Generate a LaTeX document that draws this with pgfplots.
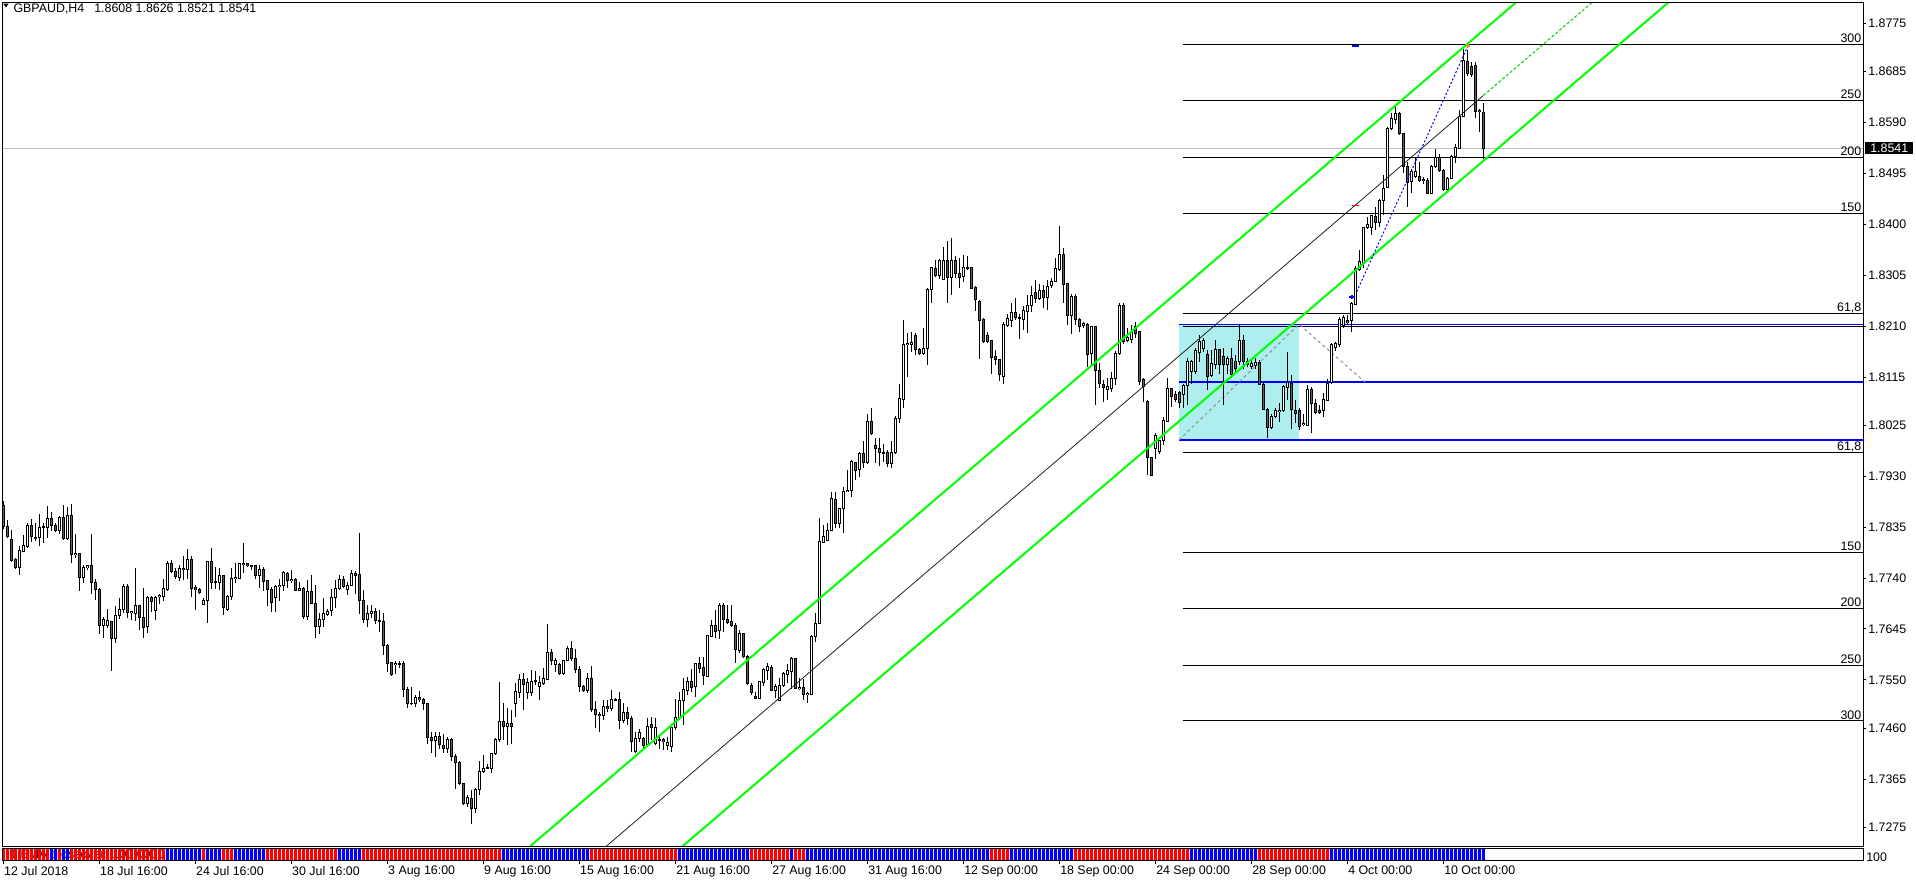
\documentclass[border=0pt]{standalone}
\usepackage{pgfplots}
\usepackage{pgfplotstable}
\pgfplotsset{compat=1.18}
\usepackage{fontspec}
\setmainfont{Liberation Sans}
\definecolor{mtgreen}{RGB}{0,255,0}
\definecolor{mtgreenb}{RGB}{0,210,0}
\definecolor{mtcyan}{RGB}{175,238,238}
\definecolor{mtbear}{RGB}{96,96,96}
\definecolor{mtgray}{RGB}{192,192,192}
\definecolor{mtdash}{RGB}{140,140,140}
\definecolor{mtorange}{RGB}{230,150,30}
\definecolor{mtmid}{RGB}{20,40,20}
\newcommand{\tkf}{\fontsize{9.3}{11}\selectfont}
\begin{document}
\pgfplotstableread{
i o h l c s
0 1.7876 1.7883 1.7831 1.7837 1
1 1.7837 1.7848 1.7815 1.7817 1
2 1.7812 1.7830 1.7771 1.7772 1
3 1.7774 1.7777 1.7758 1.7759 1
4 1.7760 1.7800 1.7746 1.7791 1
5 1.7789 1.7820 1.7788 1.7800 1
6 1.7799 1.7842 1.7797 1.7839 1
7 1.7839 1.7851 1.7808 1.7817 1
8 1.7816 1.7842 1.7810 1.7813 1
9 1.7815 1.7860 1.7799 1.7835 1
10 1.7835 1.7842 1.7805 1.7836 1
11 1.7835 1.7874 1.7815 1.7851 1
12 1.7851 1.7864 1.7827 1.7838 0
13 1.7839 1.7842 1.7827 1.7828 0
14 1.7828 1.7856 1.7823 1.7853 1
15 1.7853 1.7876 1.7811 1.7813 0
16 1.7813 1.7873 1.7811 1.7856 0
17 1.7856 1.7879 1.7769 1.7784 1
18 1.7784 1.7822 1.7777 1.7786 1
19 1.7786 1.7786 1.7716 1.7741 1
20 1.7741 1.7764 1.7731 1.7759 1
21 1.7759 1.7763 1.7755 1.7763 1
22 1.7763 1.7823 1.7711 1.7731 1
23 1.7731 1.7739 1.7699 1.7719 1
24 1.7719 1.7721 1.7636 1.7651 1
25 1.7651 1.7668 1.7628 1.7662 1
26 1.7651 1.7683 1.7646 1.7660 1
27 1.7660 1.7660 1.7567 1.7628 1
28 1.7628 1.7687 1.7619 1.7671 1
29 1.7671 1.7702 1.7663 1.7682 1
30 1.7682 1.7729 1.7674 1.7725 1
31 1.7725 1.7729 1.7665 1.7675 1
32 1.7675 1.7679 1.7661 1.7677 1
33 1.7674 1.7758 1.7659 1.7688 1
34 1.7688 1.7690 1.7643 1.7666 1
35 1.7666 1.7721 1.7629 1.7648 1
36 1.7649 1.7706 1.7638 1.7703 1
37 1.7703 1.7706 1.7677 1.7696 1
38 1.7679 1.7707 1.7662 1.7704 1
39 1.7705 1.7711 1.7691 1.7708 1
40 1.7705 1.7738 1.7697 1.7720 1
41 1.7718 1.7772 1.7715 1.7768 0
42 1.7768 1.7774 1.7749 1.7752 0
43 1.7753 1.7758 1.7738 1.7742 0
44 1.7741 1.7764 1.7735 1.7758 0
45 1.7758 1.7781 1.7736 1.7756 0
46 1.7756 1.7794 1.7739 1.7774 0
47 1.7774 1.7781 1.7704 1.7721 0
48 1.7722 1.7728 1.7680 1.7719 0
49 1.7719 1.7722 1.7710 1.7713 0
50 1.7690 1.7702 1.7689 1.7699 1
51 1.7699 1.7772 1.7657 1.7771 0
52 1.7771 1.7796 1.7720 1.7732 0
53 1.7732 1.7760 1.7719 1.7733 0
54 1.7732 1.7758 1.7718 1.7744 0
55 1.7744 1.7746 1.7671 1.7685 1
56 1.7682 1.7708 1.7678 1.7706 1
57 1.7705 1.7758 1.7699 1.7739 1
58 1.7739 1.7769 1.7730 1.7741 0
59 1.7739 1.7769 1.7738 1.7768 0
60 1.7768 1.7805 1.7749 1.7766 0
61 1.7767 1.7769 1.7760 1.7763 0
62 1.7763 1.7764 1.7755 1.7761 0
63 1.7763 1.7764 1.7738 1.7744 0
64 1.7744 1.7764 1.7721 1.7756 0
65 1.7756 1.7761 1.7715 1.7733 0
66 1.7735 1.7737 1.7687 1.7719 1
67 1.7719 1.7724 1.7677 1.7694 1
68 1.7704 1.7727 1.7677 1.7725 1
69 1.7725 1.7738 1.7698 1.7727 1
70 1.7726 1.7754 1.7716 1.7750 1
71 1.7749 1.7752 1.7721 1.7735 1
72 1.7735 1.7755 1.7730 1.7737 1
73 1.7737 1.7740 1.7717 1.7717 1
74 1.7717 1.7733 1.7717 1.7721 1
75 1.7721 1.7724 1.7663 1.7668 1
76 1.7668 1.7737 1.7662 1.7715 1
77 1.7715 1.7746 1.7692 1.7693 1
78 1.7693 1.7727 1.7629 1.7649 1
79 1.7649 1.7675 1.7636 1.7662 1
80 1.7662 1.7702 1.7648 1.7674 1
81 1.7672 1.7682 1.7670 1.7678 1
82 1.7679 1.7719 1.7670 1.7704 1
83 1.7704 1.7737 1.7684 1.7721 1
84 1.7721 1.7746 1.7718 1.7738 0
85 1.7738 1.7743 1.7722 1.7725 0
86 1.7718 1.7733 1.7708 1.7727 0
87 1.7727 1.7755 1.7725 1.7749 0
88 1.7749 1.7754 1.7710 1.7745 0
89 1.7746 1.7824 1.7673 1.7698 0
90 1.7699 1.7718 1.7657 1.7663 1
91 1.7663 1.7690 1.7649 1.7674 1
92 1.7674 1.7690 1.7665 1.7678 1
93 1.7678 1.7684 1.7654 1.7661 1
94 1.7661 1.7680 1.7640 1.7660 1
95 1.7660 1.7674 1.7596 1.7614 1
96 1.7615 1.7617 1.7564 1.7581 1
97 1.7582 1.7584 1.7559 1.7560 1
98 1.7578 1.7586 1.7561 1.7580 1
99 1.7580 1.7586 1.7572 1.7579 1
100 1.7580 1.7586 1.7519 1.7532 1
101 1.7532 1.7537 1.7497 1.7506 1
102 1.7506 1.7537 1.7503 1.7507 1
103 1.7506 1.7522 1.7500 1.7517 1
104 1.7517 1.7530 1.7509 1.7513 1
105 1.7513 1.7516 1.7493 1.7506 1
106 1.7506 1.7507 1.7430 1.7443 1
107 1.7443 1.7453 1.7414 1.7437 1
108 1.7437 1.7452 1.7407 1.7445 1
109 1.7445 1.7453 1.7421 1.7430 1
110 1.7427 1.7449 1.7414 1.7422 1
111 1.7422 1.7443 1.7413 1.7439 1
112 1.7439 1.7441 1.7399 1.7408 1
113 1.7408 1.7411 1.7346 1.7396 1
114 1.7396 1.7399 1.7354 1.7357 1
115 1.7357 1.7358 1.7317 1.7320 1
116 1.7320 1.7335 1.7312 1.7330 1
117 1.7329 1.7345 1.7282 1.7310 1
118 1.7310 1.7348 1.7301 1.7346 1
119 1.7346 1.7399 1.7335 1.7379 1
120 1.7379 1.7410 1.7377 1.7385 1
121 1.7385 1.7394 1.7383 1.7386 1
122 1.7385 1.7414 1.7376 1.7412 1
123 1.7412 1.7441 1.7410 1.7438 1
124 1.7438 1.7546 1.7435 1.7473 1
125 1.7473 1.7507 1.7437 1.7463 0
126 1.7463 1.7497 1.7429 1.7469 0
127 1.7469 1.7494 1.7430 1.7463 0
128 1.7506 1.7544 1.7480 1.7528 0
129 1.7526 1.7561 1.7516 1.7551 0
130 1.7551 1.7562 1.7494 1.7542 0
131 1.7526 1.7553 1.7514 1.7545 0
132 1.7526 1.7568 1.7520 1.7547 0
133 1.7547 1.7567 1.7540 1.7548 0
134 1.7538 1.7557 1.7513 1.7545 0
135 1.7544 1.7572 1.7540 1.7553 0
136 1.7551 1.7655 1.7550 1.7601 0
137 1.7601 1.7607 1.7578 1.7586 0
138 1.7578 1.7590 1.7564 1.7587 0
139 1.7578 1.7582 1.7559 1.7562 0
140 1.7562 1.7588 1.7560 1.7587 0
141 1.7587 1.7613 1.7585 1.7609 0
142 1.7609 1.7623 1.7585 1.7590 0
143 1.7590 1.7607 1.7562 1.7569 0
144 1.7569 1.7576 1.7528 1.7538 0
145 1.7538 1.7540 1.7528 1.7531 0
146 1.7531 1.7562 1.7526 1.7552 0
147 1.7553 1.7576 1.7491 1.7494 1
148 1.7494 1.7510 1.7461 1.7486 1
149 1.7486 1.7491 1.7453 1.7484 1
150 1.7484 1.7513 1.7475 1.7500 1
151 1.7500 1.7513 1.7491 1.7496 1
152 1.7496 1.7531 1.7492 1.7513 1
153 1.7513 1.7516 1.7511 1.7514 1
154 1.7514 1.7528 1.7458 1.7474 1
155 1.7474 1.7506 1.7470 1.7489 1
156 1.7489 1.7500 1.7466 1.7478 1
157 1.7478 1.7483 1.7416 1.7435 1
158 1.7416 1.7452 1.7413 1.7441 1
159 1.7441 1.7458 1.7435 1.7452 1
160 1.7441 1.7444 1.7423 1.7428 1
161 1.7430 1.7478 1.7428 1.7464 1
162 1.7466 1.7480 1.7438 1.7461 1
163 1.7432 1.7478 1.7428 1.7461 1
164 1.7439 1.7447 1.7422 1.7438 1
165 1.7438 1.7441 1.7419 1.7435 1
166 1.7427 1.7444 1.7419 1.7434 1
167 1.7425 1.7463 1.7416 1.7461 1
168 1.7461 1.7514 1.7456 1.7480 1
169 1.7478 1.7528 1.7475 1.7511 0
170 1.7511 1.7553 1.7466 1.7532 0
171 1.7531 1.7556 1.7522 1.7547 0
172 1.7547 1.7570 1.7528 1.7536 0
173 1.7537 1.7581 1.7519 1.7580 0
174 1.7580 1.7592 1.7563 1.7572 0
175 1.7573 1.7593 1.7540 1.7559 0
176 1.7557 1.7634 1.7556 1.7632 0
177 1.7632 1.7662 1.7630 1.7651 0
178 1.7651 1.7680 1.7628 1.7640 0
179 1.7642 1.7693 1.7626 1.7688 0
180 1.7688 1.7693 1.7640 1.7663 0
181 1.7662 1.7690 1.7654 1.7657 0
182 1.7659 1.7690 1.7649 1.7652 0
183 1.7652 1.7656 1.7581 1.7606 0
184 1.7605 1.7644 1.7600 1.7636 0
185 1.7636 1.7638 1.7592 1.7593 0
186 1.7593 1.7596 1.7540 1.7544 0
187 1.7540 1.7544 1.7522 1.7526 1
188 1.7519 1.7528 1.7514 1.7516 1
189 1.7516 1.7547 1.7514 1.7547 1
190 1.7545 1.7572 1.7539 1.7569 1
191 1.7567 1.7581 1.7550 1.7575 1
192 1.7573 1.7578 1.7529 1.7531 1
193 1.7531 1.7543 1.7516 1.7537 1
194 1.7512 1.7553 1.7511 1.7540 1
195 1.7540 1.7565 1.7537 1.7562 1
196 1.7560 1.7579 1.7545 1.7568 1
197 1.7566 1.7593 1.7533 1.7590 0
198 1.7590 1.7591 1.7533 1.7534 1
199 1.7534 1.7553 1.7531 1.7536 1
200 1.7535 1.7552 1.7512 1.7523 1
201 1.7523 1.7528 1.7506 1.7525 0
202 1.7523 1.7634 1.7522 1.7631 0
203 1.7631 1.7674 1.7621 1.7655 0
204 1.7655 1.7853 1.7654 1.7808 0
205 1.7807 1.7839 1.7805 1.7817 0
206 1.7811 1.7842 1.7809 1.7828 0
207 1.7828 1.7901 1.7827 1.7889 0
208 1.7887 1.7901 1.7833 1.7842 0
209 1.7842 1.7871 1.7833 1.7869 0
210 1.7869 1.7909 1.7825 1.7901 0
211 1.7901 1.7942 1.7900 1.7904 0
212 1.7904 1.7960 1.7892 1.7957 0
213 1.7956 1.7957 1.7923 1.7940 0
214 1.7942 1.7976 1.7929 1.7973 0
215 1.7973 1.7995 1.7946 1.7956 0
216 1.7956 1.8047 1.7952 1.8032 0
217 1.8032 1.8057 1.8007 1.8010 0
218 1.7988 1.8001 1.7954 1.7981 0
219 1.7981 1.8002 1.7950 1.7974 0
220 1.7974 1.7991 1.7956 1.7973 0
221 1.7974 1.7979 1.7948 1.7954 0
222 1.7954 1.7995 1.7945 1.7975 0
223 1.7975 1.8043 1.7971 1.8038 0
224 1.8038 1.8103 1.8030 1.8075 0
225 1.8073 1.8222 1.8057 1.8175 0
226 1.8175 1.8197 1.8116 1.8177 0
227 1.8176 1.8199 1.8162 1.8180 0
228 1.8193 1.8197 1.8157 1.8167 0
229 1.8167 1.8170 1.8156 1.8159 0
230 1.8159 1.8207 1.8156 1.8169 0
231 1.8169 1.8281 1.8137 1.8278 0
232 1.8278 1.8321 1.8253 1.8319 0
233 1.8318 1.8333 1.8302 1.8304 0
234 1.8304 1.8336 1.8298 1.8332 0
235 1.8298 1.8358 1.8296 1.8333 0
236 1.8333 1.8368 1.8253 1.8301 0
237 1.8301 1.8374 1.8268 1.8332 0
238 1.8332 1.8340 1.8299 1.8308 0
239 1.8308 1.8338 1.8282 1.8301 0
240 1.8302 1.8342 1.8293 1.8320 0
241 1.8319 1.8340 1.8315 1.8320 0
242 1.8319 1.8321 1.8279 1.8281 0
243 1.8282 1.8285 1.8238 1.8259 0
244 1.8257 1.8259 1.8148 1.8220 0
245 1.8222 1.8225 1.8180 1.8181 0
246 1.8192 1.8200 1.8178 1.8181 0
247 1.8183 1.8184 1.8120 1.8151 1
248 1.8153 1.8165 1.8137 1.8148 1
249 1.8148 1.8148 1.8108 1.8119 1
250 1.8116 1.8218 1.8103 1.8213 1
251 1.8212 1.8232 1.8209 1.8225 1
252 1.8220 1.8253 1.8209 1.8236 0
253 1.8236 1.8263 1.8222 1.8226 0
254 1.8226 1.8232 1.8186 1.8225 0
255 1.8222 1.8248 1.8203 1.8239 0
256 1.8237 1.8268 1.8198 1.8249 0
257 1.8248 1.8284 1.8236 1.8268 0
258 1.8273 1.8296 1.8254 1.8261 0
259 1.8261 1.8288 1.8258 1.8277 0
260 1.8276 1.8286 1.8244 1.8264 0
261 1.8264 1.8296 1.8241 1.8285 0
262 1.8285 1.8299 1.8281 1.8294 0
263 1.8294 1.8337 1.8292 1.8318 0
264 1.8315 1.8396 1.8313 1.8344 0
265 1.8344 1.8355 1.8253 1.8288 0
266 1.8290 1.8290 1.8212 1.8230 0
267 1.8230 1.8270 1.8195 1.8265 0
268 1.8265 1.8270 1.8212 1.8223 1
269 1.8223 1.8226 1.8200 1.8209 1
270 1.8212 1.8218 1.8206 1.8215 1
271 1.8213 1.8215 1.8134 1.8157 1
272 1.8159 1.8211 1.8138 1.8209 1
273 1.8209 1.8211 1.8063 1.8128 1
274 1.8128 1.8141 1.8094 1.8103 1
275 1.8101 1.8110 1.8069 1.8095 1
276 1.8091 1.8113 1.8072 1.8098 1
277 1.8094 1.8125 1.8088 1.8112 1
278 1.8112 1.8164 1.8100 1.8159 1
279 1.8159 1.8253 1.8156 1.8249 1
280 1.8249 1.8253 1.8176 1.8181 1
281 1.8184 1.8206 1.8181 1.8189 1
282 1.8186 1.8213 1.8179 1.8198 1
283 1.8209 1.8217 1.8187 1.8197 1
284 1.8200 1.8201 1.8101 1.8106 1
285 1.8110 1.8113 1.8069 1.8097 1
286 1.8069 1.8072 1.7932 1.7965 1
287 1.7965 1.7966 1.7931 1.7932 1
288 1.7982 1.8010 1.7963 1.8007 1
289 1.7976 1.7998 1.7971 1.7996 1
290 1.7996 1.8041 1.7988 1.8035 1
291 1.8033 1.8113 1.8032 1.8093 1
292 1.8093 1.8094 1.8060 1.8078 1
293 1.8083 1.8089 1.8069 1.8074 1
294 1.8087 1.8089 1.8058 1.8068 1
295 1.8082 1.8103 1.8057 1.8099 1
296 1.8099 1.8150 1.8062 1.8144 1
297 1.8125 1.8147 1.8103 1.8144 0
298 1.8126 1.8169 1.8120 1.8164 0
299 1.8161 1.8194 1.8144 1.8182 0
300 1.8169 1.8187 1.8161 1.8184 0
301 1.8157 1.8166 1.8091 1.8116 0
302 1.8118 1.8166 1.8116 1.8141 0
303 1.8139 1.8184 1.8131 1.8166 0
304 1.8166 1.8167 1.8120 1.8139 0
305 1.8153 1.8169 1.8063 1.8138 0
306 1.8138 1.8155 1.8120 1.8149 0
307 1.8149 1.8169 1.8113 1.8119 0
308 1.8145 1.8156 1.8125 1.8131 0
309 1.8144 1.8212 1.8138 1.8183 0
310 1.8183 1.8194 1.8131 1.8144 0
311 1.8145 1.8151 1.8134 1.8138 0
312 1.8134 1.8150 1.8131 1.8140 0
313 1.8137 1.8150 1.8131 1.8142 0
314 1.8142 1.8147 1.8100 1.8102 1
315 1.8102 1.8106 1.8053 1.8055 1
316 1.8055 1.8057 1.8001 1.8021 1
317 1.8021 1.8047 1.8019 1.8042 1
318 1.8042 1.8057 1.8038 1.8052 1
319 1.8050 1.8066 1.8032 1.8053 1
320 1.8052 1.8100 1.8050 1.8097 1
321 1.8096 1.8162 1.8072 1.8104 1
322 1.8104 1.8119 1.8019 1.8055 1
323 1.8053 1.8073 1.8030 1.8047 1
324 1.8053 1.8057 1.8016 1.8023 1
325 1.8026 1.8047 1.8024 1.8029 1
326 1.8024 1.8100 1.8023 1.8091 1
327 1.8091 1.8097 1.8011 1.8065 1
328 1.8066 1.8075 1.8046 1.8049 1
329 1.8053 1.8063 1.8047 1.8049 1
330 1.8052 1.8085 1.8041 1.8073 1
331 1.8072 1.8111 1.8071 1.8104 1
332 1.8104 1.8178 1.8102 1.8175 0
333 1.8170 1.8181 1.8164 1.8177 0
334 1.8175 1.8228 1.8172 1.8223 0
335 1.8212 1.8231 1.8206 1.8226 0
336 1.8221 1.8231 1.8212 1.8216 0
337 1.8220 1.8256 1.8200 1.8252 0
338 1.8251 1.8322 1.8250 1.8318 0
339 1.8316 1.8352 1.8312 1.8330 0
340 1.8327 1.8395 1.8318 1.8394 0
341 1.8394 1.8414 1.8391 1.8400 0
342 1.8395 1.8417 1.8380 1.8417 0
343 1.8414 1.8433 1.8389 1.8403 0
344 1.8403 1.8447 1.8395 1.8445 0
345 1.8444 1.8492 1.8417 1.8467 0
346 1.8469 1.8582 1.8467 1.8579 0
347 1.8578 1.8607 1.8576 1.8598 0
348 1.8596 1.8618 1.8587 1.8607 0
349 1.8607 1.8610 1.8567 1.8570 0
350 1.8570 1.8571 1.8495 1.8508 0
351 1.8508 1.8517 1.8432 1.8478 0
352 1.8479 1.8504 1.8458 1.8498 0
353 1.8489 1.8523 1.8486 1.8498 0
354 1.8489 1.8517 1.8479 1.8481 0
355 1.8484 1.8489 1.8476 1.8481 0
356 1.8481 1.8486 1.8456 1.8458 0
357 1.8458 1.8511 1.8457 1.8508 0
358 1.8508 1.8540 1.8506 1.8525 0
359 1.8525 1.8532 1.8498 1.8501 0
360 1.8501 1.8504 1.8463 1.8465 0
361 1.8465 1.8489 1.8463 1.8486 0
362 1.8486 1.8529 1.8484 1.8526 0
363 1.8526 1.8550 1.8514 1.8544 0
364 1.8542 1.8613 1.8540 1.8602 0
365 1.8601 1.8728 1.8600 1.8705 0
366 1.8703 1.8725 1.8677 1.8682 0
367 1.8695 1.8703 1.8675 1.8679 0
368 1.8697 1.8703 1.8598 1.8610 0
369 1.8613 1.8616 1.8573 1.8610 0
370 1.8608 1.8626 1.8521 1.8541 0
}\cdata
\begin{tikzpicture}[x=0.75pt,y=0.75pt]
\useasboundingbox (0,0) rectangle (1916,-884);
% text of the indicator strip, mostly hidden under its bars
\node[anchor=base west, inner sep=0pt, font=\tkf, text=black] at (10,-858.3) {1 EMA crossover: 100.0000};
\begin{axis}[
  at={(1.875pt,-2.025pt)}, anchor=north west,
  scale only axis, width=1395.375pt, height=632.475pt,
  xmin=-0.2, xmax=464.925, ymin=1.72401, ymax=1.88135,
  axis on top,
  axis line style={line width=0.75pt, black},
  xtick=\empty,
  ytick pos=right, yticklabel pos=right,
  ytick={1.7275,1.7365,1.7460,1.7550,1.7645,1.7740,1.7835,1.7930,1.8025,1.8115,1.8210,1.8305,1.8400,1.8495,1.8590,1.8685,1.8775},
  yticklabels={1.7275,1.7365,1.7460,1.7550,1.7645,1.7740,1.7835,1.7930,1.8025,1.8115,1.8210,1.8305,1.8400,1.8495,1.8590,1.8685,1.8775},
  tick align=outside, major tick length=2.25pt,
  tick style={black, line width=0.75pt},
  yticklabel style={font=\tkf, anchor=west, inner sep=0pt, xshift=1.5pt},
]
% pending-area rectangle
\fill[mtcyan] (axis cs:293.925,1.79976) rectangle (axis cs:323.925,1.82135);
% bid line
\draw[mtgray, line width=0.75pt] (axis cs:-1,1.8541) -- (axis cs:470,1.8541);
% expansion levels
\draw[black, line width=0.75pt] (axis cs:294.85,1.87359) -- (axis cs:470,1.87359);
\draw[black, line width=0.75pt] (axis cs:294.85,1.86314) -- (axis cs:470,1.86314);
\draw[black, line width=0.75pt] (axis cs:294.85,1.85250) -- (axis cs:470,1.85250);
\draw[black, line width=0.75pt] (axis cs:294.85,1.84206) -- (axis cs:470,1.84206);
\draw[black, line width=0.75pt] (axis cs:294.85,1.82340) -- (axis cs:470,1.82340);
\draw[black, line width=0.75pt] (axis cs:294.85,1.82097) -- (axis cs:470,1.82097);
\draw[black, line width=0.75pt] (axis cs:294.85,1.79747) -- (axis cs:470,1.79747);
\draw[black, line width=0.75pt] (axis cs:294.85,1.77881) -- (axis cs:470,1.77881);
\draw[black, line width=0.75pt] (axis cs:294.85,1.76836) -- (axis cs:470,1.76836);
\draw[black, line width=0.75pt] (axis cs:294.85,1.75773) -- (axis cs:470,1.75773);
\draw[black, line width=0.75pt] (axis cs:294.85,1.74734) -- (axis cs:470,1.74734);
\draw[blue, line width=1.1pt] (axis cs:293.925,1.82135) -- (axis cs:470,1.82135);
\draw[blue, line width=1.5pt] (axis cs:293.925,1.81049) -- (axis cs:470,1.81049);
\draw[blue, line width=1.5pt] (axis cs:293.925,1.79976) -- (axis cs:470,1.79976);
\draw[mtdash, line width=0.75pt, dash pattern=on 2.25pt off 2.25pt] (axis cs:293.925,1.79976) -- (axis cs:323.925,1.82135) -- (axis cs:340.4,1.81058);
% candles: wicks
\addplot[mark=none, draw=none, forget plot,
  error bars/.cd, y dir=both, y explicit, error mark=none,
  error bar style={draw=black, line width=0.75pt}]
  table[x=i, y=c, y error plus expr=\thisrow{h}-\thisrow{c}, y error minus expr=\thisrow{c}-\thisrow{l}] {\cdata};
% candles: body outlines
\addplot[mark=none, draw=none, forget plot,
  error bars/.cd, y dir=both, y explicit, error mark=none,
  error bar style={draw=black, line width=2.25pt}]
  table[x=i, y expr=(\thisrow{o}+\thisrow{c})/2, y error expr=abs(\thisrow{c}-\thisrow{o})/2+0.0000933] {\cdata};
% bullish interiors
\addplot[mark=none, draw=none, forget plot,
  error bars/.cd, y dir=both, y explicit, error mark=none,
  error bar style={draw=white, line width=0.75pt}]
  table[x expr={\thisrow{c}-\thisrow{o}>0.00019 ? \thisrow{i} : -50}, y expr=(\thisrow{o}+\thisrow{c})/2, y error expr=abs(\thisrow{c}-\thisrow{o})/2-0.0000933] {\cdata};
% bearish interiors
\addplot[mark=none, draw=none, forget plot,
  error bars/.cd, y dir=both, y explicit, error mark=none,
  error bar style={draw=mtbear, line width=0.75pt}]
  table[x expr={\thisrow{o}-\thisrow{c}>0.00019 ? \thisrow{i} : -50}, y expr=(\thisrow{o}+\thisrow{c})/2, y error expr=abs(\thisrow{c}-\thisrow{o})/2-0.0000933] {\cdata};
% channel
\draw[mtgreen, line width=1.5pt] (axis cs:100,1.70372) -- (axis cs:420,1.90814);
\draw[mtgreen, line width=1.5pt] (axis cs:100,1.67937) -- (axis cs:420,1.88379);
\draw[mtmid, line width=0.6pt] (axis cs:150,1.72349) -- (axis cs:370,1.86403);
\draw[mtgreenb, line width=0.75pt, dash pattern=on 2.25pt off 1.5pt] (axis cs:370,1.86403) -- (axis cs:420,1.89597);
% zigzag and trade markers
\draw[blue, line width=0.75pt, dash pattern=on 1.5pt off 1.5pt] (axis cs:338.35,1.82743) -- (axis cs:366.25,1.87345);
\draw[red, line width=0.75pt] (axis cs:337.1,1.8436) -- (axis cs:338.8,1.8436);
\draw[blue, line width=1.2pt] (axis cs:337.1,1.87327) -- (axis cs:338.8,1.87327);
\draw[blue, line width=1.3pt] (axis cs:336.4,1.8265) -- (axis cs:338.0,1.8265);
\draw[blue, line width=1.3pt] (axis cs:337.2,1.8261) -- (axis cs:337.2,1.8269);
\fill[mtorange] (axis cs:365.6,1.8731) -- (axis cs:366.8,1.8731) -- (axis cs:366.2,1.8738) -- cycle;
\end{axis}
% indicator strip with the date scale
\begin{axis}[
  at={(1.875pt,-636.225pt)}, anchor=north west,
  scale only axis, width=1395.375pt, height=8.775pt,
  xmin=-0.2, xmax=464.925, ymin=0, ymax=1,
  axis on top,
  axis line style={line width=0.75pt, black},
  ytick=\empty,
  xtick pos=bottom,
  xtick={0,24,48,72,96,120,144,168,192,216,240,264,288,312,336,360},
  xticklabels={12 Jul 2018,18 Jul 16:00,24 Jul 16:00,30 Jul 16:00,3 Aug 16:00,9 Aug 16:00,15 Aug 16:00,21 Aug 16:00,27 Aug 16:00,31 Aug 16:00,12 Sep 00:00,18 Sep 00:00,24 Sep 00:00,28 Sep 00:00,4 Oct 00:00,10 Oct 00:00},
  tick align=outside, major tick length=3pt,
  tick style={black, line width=0.75pt},
  xticklabel style={font=\tkf, anchor=north west, inner sep=0pt, xshift=0.5pt, yshift=-1.5pt},
]
\addplot[ybar, bar width=2.25pt, bar shift=0pt, fill=red, draw=none, forget plot]
  table[x expr={\thisrow{s}>0.5 ? \thisrow{i} : -50}, y expr=1] {\cdata};
\addplot[ybar, bar width=2.25pt, bar shift=0pt, fill=blue, draw=none, forget plot]
  table[x expr={\thisrow{s}<0.5 ? \thisrow{i} : -50}, y expr=1] {\cdata};
\end{axis}
% header
\fill[black] (3.3,-3.6) -- (8.7,-3.6) -- (6,-7.4) -- cycle;
\node[anchor=base west, inner sep=0pt, font=\tkf] at (13.3,-13) {GBPAUD,H4\hspace{7.5pt}1.8608 1.8626 1.8521 1.8541};
% level captions
\begin{scope}[every node/.style={anchor=base east, inner sep=0pt, font=\tkf}]
\node at (1861.5,-42.3) {300};
\node at (1861.5,-98.3) {250};
\node at (1861.5,-155.3) {200};
\node at (1861.5,-211.3) {150};
\node at (1861.5,-311.3) {61,8};
\node at (1861.5,-450.3) {61,8};
\node at (1861.5,-550.3) {150};
\node at (1861.5,-606.3) {200};
\node at (1861.5,-663.3) {250};
\node at (1861.5,-719) {300};
\end{scope}
% current price tag
\fill[black] (1865,-141.7) rectangle (1913.3,-154);
\node[anchor=west, inner sep=0pt, font=\tkf, text=white] at (1870,-147.9) {1.8541};
\begin{scope}
\clip (1864,-852.5) rectangle (1916,-884);
\node[anchor=base west, inner sep=0pt, font=\tkf] at (1866,-861.5) {100};
\end{scope}
\end{tikzpicture}
\end{document}
